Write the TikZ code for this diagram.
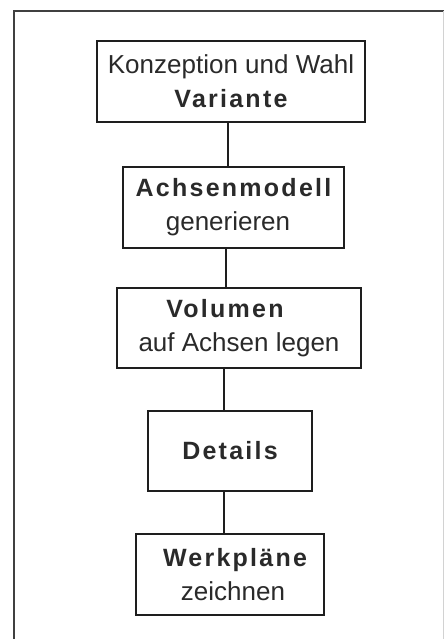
\documentclass[tikz,border=0pt]{standalone}
\usepackage{fontspec}
\setmainfont{Liberation Sans}
\newfontfamily\spacedbold[LetterSpace=9]{Liberation Sans Bold}
\definecolor{linecol}{HTML}{1E1E1E}
\definecolor{textcol}{HTML}{2A2A2A}
\begin{document}
\begin{tikzpicture}[x=1pt,y=-1pt,
  box/.style={draw=linecol, line width=2.8pt, fill=white, text=textcol,
    inner sep=0pt, align=center, font=\fontsize{26}{34}\selectfont},
  conn/.style={draw=linecol, line width=2.3pt},
  frameline/.style={draw=linecol!85, line width=1.8pt}]
\useasboundingbox (0,0) rectangle (445,639);
\fill[white] (0,0) rectangle (445,639);
\draw[frameline] (14,639) -- (14,11) -- (444,11);
\draw[gray!35, line width=1pt] (443,11) -- (443,639);

\node[box, minimum width=268pt, minimum height=81pt] (b1) at (231,81.5)
  {Konzeption und Wahl\\{\fontsize{25}{34}\spacedbold Variante}};
\node[box, minimum width=221pt, minimum height=81pt] (b2) at (233.5,207.5)
  {{\fontsize{25}{34}\spacedbold Achsenmodell}\\generieren\hspace*{11pt}};
\node[box, minimum width=244pt, minimum height=80pt] (b3) at (239,328)
  {{\fontsize{25}{34}\spacedbold Volumen}\hspace*{28pt}\\auf Achsen legen};
\node[box, minimum width=164pt, minimum height=80pt] (b4) at (230,451)
  {{\fontsize{25}{34}\spacedbold Details}};
\node[box, minimum width=188pt, minimum height=81pt] (b5) at (230,574.5)
  {\hspace*{10pt}{\fontsize{25}{34}\spacedbold Werkpläne}\\\hspace*{6pt}zeichnen};

\coordinate (x1) at (228,0);
\coordinate (x2) at (226,0);
\coordinate (x3) at (224,0);
\draw[conn] (b1.south -| x1) -- (b2.north -| x1);
\draw[conn] (b2.south -| x2) -- (b3.north -| x2);
\draw[conn] (b3.south -| x3) -- (b4.north -| x3);
\draw[conn] (b4.south -| x3) -- (b5.north -| x3);
\end{tikzpicture}
\end{document}
